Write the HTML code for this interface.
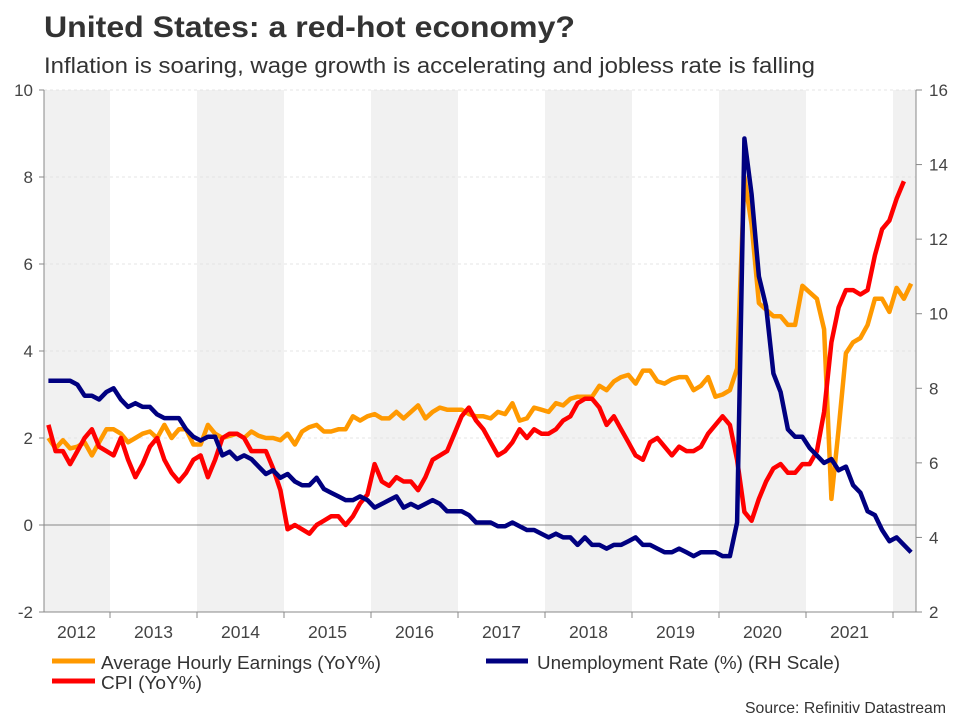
<!DOCTYPE html>
<html><head><meta charset="utf-8"><style>
html,body{margin:0;padding:0;background:#fff;}
body{width:960px;height:720px;overflow:hidden;font-family:"Liberation Sans",Arial,sans-serif;}
</style></head><body>
<svg id="chart" width="960" height="720" xmlns="http://www.w3.org/2000/svg" font-family="Liberation Sans, Arial, sans-serif">
<text x="44" y="37" font-size="30" font-weight="bold" fill="#333" textLength="531" lengthAdjust="spacingAndGlyphs">United States: a red-hot economy?</text>
<text x="44" y="73" font-size="22" fill="#333" textLength="771" lengthAdjust="spacingAndGlyphs">Inflation is soaring, wage growth is accelerating and jobless rate is falling</text>
<g id="bands"></g><g id="grid"></g><g id="axes"></g><g id="series"></g>
<g>
<line x1="52" y1="661" x2="95" y2="661" stroke="#FF9900" stroke-width="5"/>
<text x="101" y="669" font-size="18.5" fill="#333" textLength="280" lengthAdjust="spacingAndGlyphs">Average Hourly Earnings (YoY%)</text>
<line x1="486" y1="661" x2="528" y2="661" stroke="#000080" stroke-width="5"/>
<text x="537" y="669" font-size="18.5" fill="#333" textLength="303" lengthAdjust="spacingAndGlyphs">Unemployment Rate (%) (RH Scale)</text>
<line x1="52" y1="681" x2="95" y2="681" stroke="#FF0000" stroke-width="5"/>
<text x="101" y="689" font-size="18.5" fill="#333" textLength="101" lengthAdjust="spacingAndGlyphs">CPI (YoY%)</text>
</g>
<text x="946" y="713" font-size="16" fill="#333" text-anchor="end" textLength="201" lengthAdjust="spacingAndGlyphs">Source: Refinitiv Datastream</text>
</svg>
<script>
const years = [2012,2013,2014,2015,2016,2017,2018,2019,2020,2021];
const leftTicks = [-2,0,2,4,6,8,10];
const rightTicks = [2,4,6,8,10,12,14,16];
const aheStart = 3;
const aheValues = [2.0,1.76,1.95,1.76,1.8,1.9,1.6,1.9,2.2,2.2,
2.1,1.9,2.0,2.1,2.15,2.0,2.3,2.0,2.2,2.2,1.85,1.85,
2.3,2.1,2.0,2.05,2.1,2.0,2.15,2.05,2.0,2.0,1.95,2.1,
1.85,2.15,2.25,2.3,2.15,2.15,2.2,2.2,2.5,2.4,2.5,2.55,
2.45,2.45,2.6,2.45,2.6,2.75,2.45,2.6,2.7,2.65,2.65,2.65,
2.55,2.5,2.5,2.45,2.6,2.55,2.8,2.4,2.45,2.7,2.65,2.6,
2.8,2.75,2.9,2.95,2.95,2.95,3.2,3.1,3.3,3.4,3.45,3.25,
3.55,3.55,3.3,3.25,3.35,3.4,3.4,3.1,3.2,3.4,2.95,3.0,
3.1,3.6,8.0,6.9,5.1,4.95,4.8,4.8,4.6,4.6,5.5,5.35,
5.2,4.5,0.6,2.2,3.95,4.2,4.3,4.6,5.2,5.2,4.9,5.45,
5.2,5.55];
const cpiStart = 3;
const cpiValues = [2.3,1.7,1.7,1.4,1.7,2.0,2.2,1.8,1.7,
1.6,2.0,1.5,1.1,1.4,1.8,2.0,1.5,1.2,1.0,1.2,1.5,
1.6,1.1,1.5,2.0,2.1,2.1,2.0,1.7,1.7,1.7,1.3,0.8,
-0.1,0.0,-0.1,-0.2,0.0,0.1,0.2,0.2,0.0,0.2,0.5,0.7,
1.4,1.0,0.9,1.1,1.0,1.0,0.8,1.1,1.5,1.6,1.7,2.1,
2.5,2.7,2.4,2.2,1.9,1.6,1.7,1.9,2.2,2.0,2.2,2.1,
2.1,2.2,2.4,2.5,2.8,2.9,2.9,2.7,2.3,2.5,2.2,1.9,
1.6,1.5,1.9,2.0,1.8,1.6,1.8,1.7,1.7,1.8,2.1,2.3,
2.5,2.3,1.5,0.3,0.1,0.6,1.0,1.3,1.4,1.2,1.2,1.4,
1.4,1.7,2.6,4.2,5.0,5.4,5.4,5.3,5.4,6.2,6.8,7.0,
7.5,7.9];
const urStart = 3;
const urValues = [8.2,8.2,8.2,8.2,8.1,7.8,7.8,7.7,7.9,
8.0,7.7,7.5,7.6,7.5,7.5,7.3,7.2,7.2,7.2,6.9,6.7,
6.6,6.7,6.7,6.2,6.3,6.1,6.2,6.1,5.9,5.7,5.8,5.6,
5.7,5.5,5.4,5.4,5.6,5.3,5.2,5.1,5.0,5.0,5.1,5.0,
4.8,4.9,5.0,5.1,4.8,4.9,4.8,4.9,5.0,4.9,4.7,4.7,
4.7,4.6,4.4,4.4,4.4,4.3,4.3,4.4,4.3,4.2,4.2,4.1,
4.0,4.1,4.0,4.0,3.8,4.0,3.8,3.8,3.7,3.8,3.8,3.9,
4.0,3.8,3.8,3.7,3.6,3.6,3.7,3.6,3.5,3.6,3.6,3.6,
3.5,3.5,4.4,14.7,13.2,11.0,10.2,8.4,7.9,6.9,6.7,6.7,
6.4,6.2,6.0,6.1,5.8,5.9,5.4,5.2,4.7,4.6,4.2,3.9,
4.0,3.8,3.6];

const NS="http://www.w3.org/2000/svg";
const PL=44, PR=916, PT=90, PB=612;
const X0=23, MW=87/12;
const xMonth = m => X0 + (m+0.5)*MW;
const xYear = i => X0 + i*87;
const yL = v => PT + (10-v)*(PB-PT)/12;
const yR = v => PT + (16-v)*(PB-PT)/14;
function mk(tag, attrs, parent){const e=document.createElementNS(NS,tag);for(const k in attrs)e.setAttribute(k,attrs[k]);parent.appendChild(e);return e;}
const bands=document.getElementById('bands'), grid=document.getElementById('grid'), axes=document.getElementById('axes'), ser=document.getElementById('series');
for(let i=0;i<=10;i+=2){
  const a=Math.max(PL,xYear(i)), b=Math.min(PR,xYear(i+1));
  if(b<=a) continue;
  const r=mk('rect',{x:a,y:PT,width:b-a,height:PB-PT,fill:'#f1f1f1'},bands);
  
  
}
leftTicks.forEach(v=>{
  if(v!==0 && v!==-2){
    const g=mk('line',{x1:PL,x2:PR,y1:yL(v),y2:yL(v),stroke:'#e4e4e4','stroke-dasharray':'3,3','stroke-width':1},grid);
    
    
  }
  const tk=mk('line',{x1:PL-5,x2:PL,y1:yL(v),y2:yL(v),stroke:'#888'},axes);
  
  
  const t=mk('text',{x:33,y:yL(v)+6,'font-size':17,fill:'#444','text-anchor':'end'},axes);
  t.textContent=v;
  
  
});
const z=mk('line',{x1:PL,x2:PR,y1:yL(0),y2:yL(0),stroke:'#888','stroke-width':1},axes);


const xa=mk('line',{x1:PL,x2:PR,y1:PB,y2:PB,stroke:'#888','stroke-width':1},axes);


rightTicks.forEach(v=>{
  const tk=mk('line',{x1:PR,x2:PR+6,y1:yR(v),y2:yR(v),stroke:'#888'},axes);
  
  
  const t=mk('text',{x:929,y:yR(v)+6,'font-size':17,fill:'#444'},axes);
  t.textContent=v;
  
  
});
const la=mk('line',{x1:PL,x2:PL,y1:PT,y2:PB,stroke:'#888'},axes);


const ra=mk('line',{x1:PR,x2:PR,y1:PT,y2:PB,stroke:'#888'},axes);


years.forEach((y,i)=>{
  const tk=mk('line',{x1:xYear(i+1),x2:xYear(i+1),y1:PB,y2:PB+6,stroke:'#888'},axes);
  
  
  const t=mk('text',{x:xYear(i)+43.5+(i===0?10:0),y:638,'font-size':17.5,fill:'#444','text-anchor':'middle'},axes);
  t.textContent=y;
  
  
});
function line(vals,start,yf,color,name){
  const pts=vals.map((v,i)=>xMonth(start+i).toFixed(1)+','+yf(v).toFixed(1)).join(' ');
  const p=mk('polyline',{points:pts,fill:'none',stroke:color,'stroke-width':4.5,'stroke-linejoin':'round','stroke-linecap':'butt'},ser);
  
  
}
line(aheValues,aheStart,yL,'#FF9900','ahe-line');
line(cpiValues,cpiStart,yL,'#FF0000','cpi-line');
line(urValues,urStart,yR,'#000080','unemployment-line');
</script>
</body></html>
